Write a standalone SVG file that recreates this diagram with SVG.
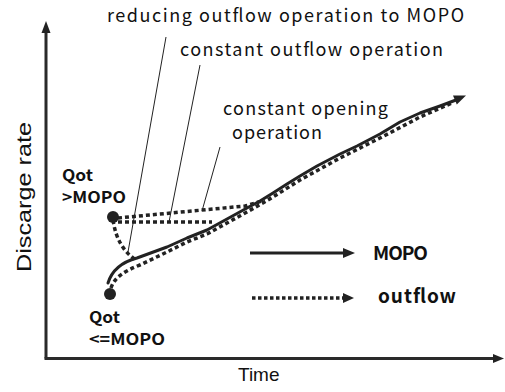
<svg xmlns="http://www.w3.org/2000/svg" width="505" height="392" viewBox="0 0 505 392">
<style>
.ax{stroke:#2a2a2a;stroke-width:3;fill:none}
.solid{stroke:#222;stroke-width:3;fill:none;stroke-linejoin:round;stroke-linecap:round}
.dot{stroke:#222;stroke-width:3.5;fill:none;stroke-dasharray:4 3}
.lead{stroke:#222;stroke-width:1;fill:none}
.hd{fill:#222}
.lbl{font-family:"Noto Sans CJK JP","Liberation Sans",sans-serif;font-size:18px;fill:#111}
.bl{font-family:"Noto Sans CJK JP","Liberation Sans",sans-serif;font-size:16px;font-weight:bold;fill:#111}
.lg{font-family:"Noto Sans CJK JP","Liberation Sans",sans-serif;font-size:19px;font-weight:bold;fill:#111}
.ar{font-family:"Liberation Sans",Arial,sans-serif;fill:#111}
</style>
<g id="axes">
<line class="ax" x1="46" y1="358.5" x2="46" y2="30"/>
<polygon class="hd" points="46,21 41.5,33 50.5,33"/>
<line class="ax" x1="44.5" y1="358.5" x2="495" y2="358.5"/>
<polygon class="hd" points="504,358.5 493,354 493,363"/>
<text class="ar" font-size="21" transform="translate(31,197) rotate(-90)" text-anchor="middle" textLength="150" lengthAdjust="spacingAndGlyphs">Discarge rate</text>
<text class="ar" font-size="19" x="238" y="381">Time</text>
</g>
<g id="connectors">
<path class="solid" d="M108,283 C112,270 122,262 137,258 L167,247 L187,238 L207,230 L227,219 L247,208 L260,201 L273,193 L287,184 L300,176 L317,166 L340,154 L357,146 L380,134 L400,122 L420,113 L440,106 L456,100"/>
<polygon class="hd" points="466,95.5 456.8,104.6 453,95.4"/>
<path class="dot" d="M111,288 C114,278 124,271 140,265 L167,252 L187,242 L207,234 L227,223 L247,212 L273,197 L300,180 L340,158 L380,138 L420,117 L452,103"/>
<path class="dot" d="M113,220 C116,240 124,252 136,260"/>
<path class="dot" d="M118,222 L212,222"/>
<path class="dot" d="M118,218 L245,206 L262,201"/>
<line class="lead" x1="166" y1="37" x2="128" y2="252"/>
<line class="lead" x1="200" y1="65" x2="169" y2="222"/>
<line class="lead" x1="220" y1="147" x2="202" y2="211"/>
<line class="solid" x1="250" y1="253" x2="344" y2="253" style="stroke-linecap:butt"/>
<polygon class="hd" points="355,253 343,248 343,258"/>
<line class="dot" x1="252" y1="298" x2="343" y2="298" style="stroke-dasharray:3.5 2.5"/>
<polygon class="hd" points="354,298 343,293 343,303"/>
</g>
<g id="node-qot-high">
<circle cx="113" cy="217" r="6" fill="#222"/>
<text class="bl" x="62" y="181" textLength="31" lengthAdjust="spacingAndGlyphs">Qot</text>
<text class="bl" x="62" y="203" textLength="64" lengthAdjust="spacingAndGlyphs">&gt;MOPO</text>
</g>
<g id="node-qot-low">
<circle cx="110" cy="294" r="6" fill="#222"/>
<text class="bl" x="89" y="323" textLength="31" lengthAdjust="spacingAndGlyphs">Qot</text>
<text class="bl" x="89" y="345" textLength="76" lengthAdjust="spacingAndGlyphs">&lt;=MOPO</text>
</g>
<g id="label-reducing">
<text class="lbl" x="107" y="22" textLength="357" lengthAdjust="spacing">reducing outflow operation to MOPO</text>
</g>
<g id="label-constant-outflow">
<text class="lbl" x="180" y="56" textLength="263" lengthAdjust="spacing">constant outflow operation</text>
</g>
<g id="label-constant-opening">
<text class="lbl" x="223" y="115" textLength="165" lengthAdjust="spacing">constant opening</text>
<text class="lbl" x="232" y="139" textLength="90" lengthAdjust="spacing">operation</text>
</g>
<g id="legend-mopo">
<text class="lg" x="373" y="260" textLength="55" lengthAdjust="spacing">MOPO</text>
</g>
<g id="legend-outflow">
<text class="lg" x="378" y="303" textLength="78" lengthAdjust="spacing">outflow</text>
</g>
</svg>
